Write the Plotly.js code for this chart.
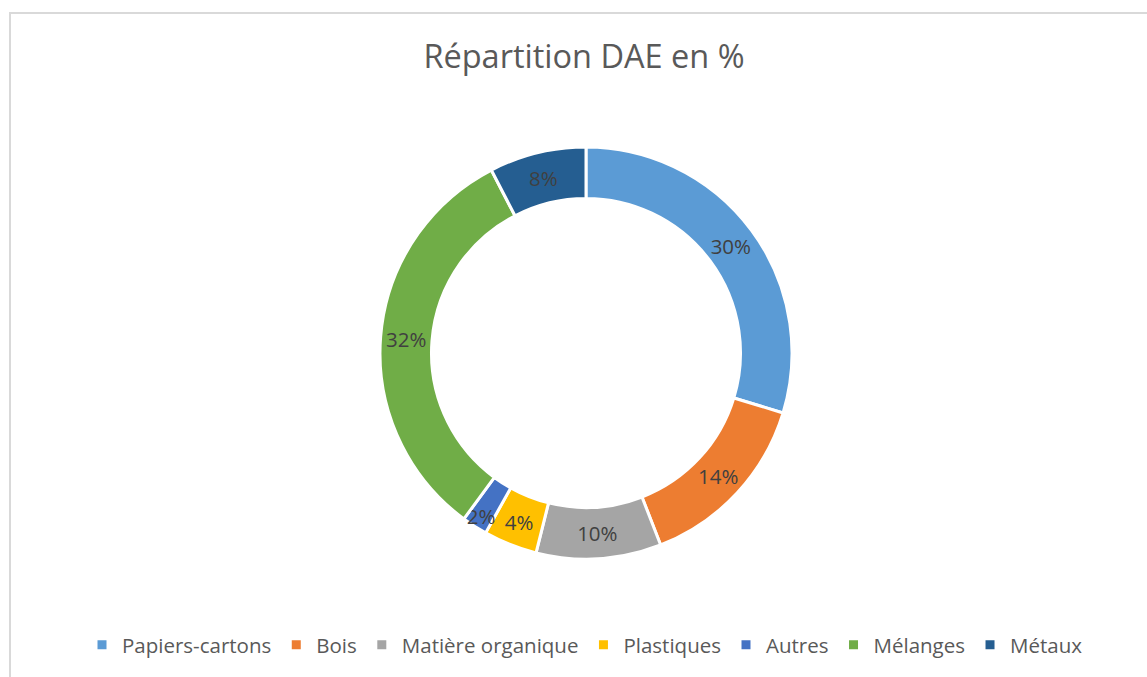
<!DOCTYPE html>
<html>
<head>
<meta charset="utf-8">
<script src="https://cdn.plot.ly/plotly-3.0.1.min.js"></script>
<style>
  html, body { margin: 0; padding: 0; background: #ffffff; }
  #wrap { position: relative; width: 1147px; height: 677px; overflow: hidden; }
  #chart { position: absolute; left: 0; top: 0; width: 1147px; height: 677px; }
  #frame { position: absolute; left: 9px; top: 12px; width: 1200px; height: 700px;
           border-left: 2px solid #d9d9d9; border-top: 2px solid #d9d9d9; pointer-events: none; }
</style>
</head>
<body>
<div id="wrap">
  <div id="chart"></div>
  <div id="frame"></div>
</div>
<script>
const categories = ["Papiers-cartons", "Bois", "Matière organique", "Plastiques", "Autres", "Mélanges", "Métaux"];
const values = [29.7, 14.4, 9.8, 4.2, 2.0, 32.3, 7.6];
const colors = ["#5B9BD5", "#ED7D31", "#A5A5A5", "#FFC000", "#4472C4", "#70AD47", "#255E91"];
const chartTitle = "Répartition DAE en %";

const W = 1147, H = 677;
const cx = 586, cy = 353, R = 206;
const FONT = "'Open Sans', sans-serif";

const trace = {
  type: "pie",
  labels: categories,
  values: values,
  hole: 0.75,
  sort: false,
  direction: "clockwise",
  rotation: 0,
  marker: { colors: colors, line: { color: "#ffffff", width: 3 } },
  textinfo: "percent",
  texttemplate: "%{percent:.0%}",
  textposition: "inside",
  insidetextorientation: "horizontal",
  textfont: { family: FONT, size: 20.5, color: "#404040" },
  hoverinfo: "label+percent",
  domain: {
    x: [(cx - R) / W, (cx + R) / W],
    y: [(H - cy - R) / H, (H - cy + R) / H]
  }
};

const layout = {
  width: W,
  height: H,
  margin: { l: 0, r: 0, t: 0, b: 0 },
  paper_bgcolor: "#ffffff",
  plot_bgcolor: "#ffffff",
  font: { family: FONT, color: "#595959" },
  title: {
    text: chartTitle,
    font: { family: FONT, size: 32.5, color: "#595959" },
    x: 584 / W, xanchor: "center", xref: "container",
    y: 1 - 57 / H, yanchor: "middle", yref: "container"
  },
  showlegend: true,
  legend: {
    orientation: "h",
    x: 585 / W, xanchor: "center",
    y: (H - 645) / H, yanchor: "middle",
    font: { family: FONT, size: 20.5, color: "#595959" },
    itemclick: false,
    traceorder: "normal"
  },
  uniformtext: { mode: "show", minsize: 20.5 }
};

Plotly.newPlot("chart", [trace], layout, { displayModeBar: false, staticPlot: true });
</script>
</body>
</html>
